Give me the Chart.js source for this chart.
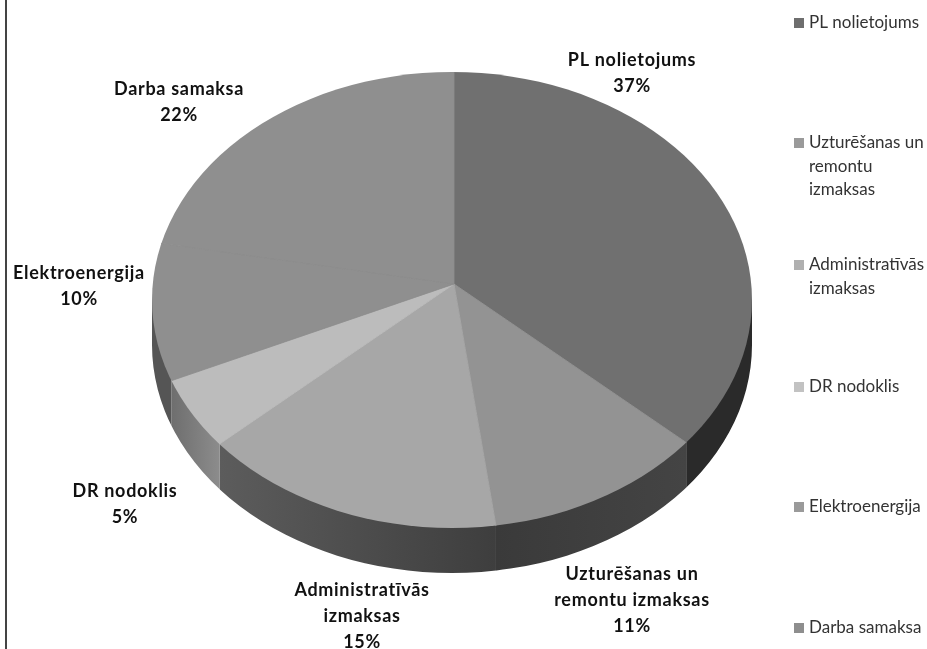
<!DOCTYPE html>
<html>
<head>
<meta charset="utf-8">
<title>Izmaksas</title>
<script src="https://cdn.jsdelivr.net/npm/chart.js@4/dist/chart.umd.min.js"></script>
<style>
  body { margin: 0; background: #fff; }
  canvas { display: block; }
</style>
</head>
<body>
<canvas id="pie" width="927" height="649"></canvas>
<script>
// DATA
const categories = ['PL nolietojums', 'Uzturēšanas un remontu izmaksas', 'Administratīvās izmaksas', 'DR nodoklis', 'Elektroenergija', 'Darba samaksa'];
const shares = [37, 11, 15, 5, 10, 22];

// colours, slice by slice
const topColors = ['#707070', '#939393', '#a7a7a7', '#bcbcbc', '#8f8f8f', '#8f8f8f'];
const legendColors = ['#6e6e6e', '#9a9a9a', '#b0b0b0', '#c2c2c2', '#9a9a9a', '#8e8e8e'];
const wallColors = [['#2a2a2a', '#2a2a2a'], ['#3a3a3a', '#444444'], ['#5c5c5c', '#3e3e3e'], ['#6e6e6e', '#8c8c8c'], ['#555555', '#555555'], ['#555555', '#555555']];

// pie geometry: apex is not the middle of the ellipse, it is a tilted 3d pie
const ell = { x: 452, y: 300, rx: 300, ry: 228, depth: 45 };
const tilt = 0.727;

// where the labels go (one per line of text)
const labelFont = 'bold 18px Lato';
const legendFont = '17px Lato';
const dataLabels = [
  { lines: ['PL nolietojums'], x: 632, y: 60 },
  { lines: ['Uzturēšanas un', 'remontu izmaksas'], x: 632, y: 574 },
  { lines: ['Administratīvās', 'izmaksas'], x: 362, y: 590 },
  { lines: ['DR nodoklis'], x: 125, y: 491 },
  { lines: ['Elektroenergija'], x: 79, y: 273 },
  { lines: ['Darba samaksa'], x: 179, y: 89 }
];
const legendRows = [
  { lines: ['PL nolietojums'], y: 23 },
  { lines: ['Uzturēšanas un', 'remontu', 'izmaksas'], y: 143 },
  { lines: ['Administratīvās', 'izmaksas'], y: 265 },
  { lines: ['DR nodoklis'], y: 387 },
  { lines: ['Elektroenergija'], y: 507 },
  { lines: ['Darba samaksa'], y: 628 }
];

// ray from the apex to the rim of the ellipse, for an arc angle
function rimPoint(cx, cy, angle) {
  const dx = Math.cos(angle), dy = Math.sin(angle) * tilt;
  const ox = (cx - ell.x) / ell.rx, oy = (cy - ell.y) / ell.ry;
  const ax = dx / ell.rx, ay = dy / ell.ry;
  const a = ax * ax + ay * ay, b = 2 * (ox * ax + oy * ay), c = ox * ox + oy * oy - 1;
  const t = (-b + Math.sqrt(b * b - 4 * a * c)) / (2 * a);
  return { x: cx + dx * t, y: cy + dy * t };
}

const pie3d = {
  id: 'pie3d',
  beforeDatasetsDraw(chart) {
    const ctx = chart.ctx;
    const arcs = chart.getDatasetMeta(0).data;
    // side walls
    arcs.forEach((arc, i) => {
      const p1 = rimPoint(arc.x, arc.y, arc.startAngle);
      const p2 = rimPoint(arc.x, arc.y, arc.endAngle);
      if (p1.y < ell.y && p2.y < ell.y) return; // back of the pie
      const side = Math.cos((arc.startAngle + arc.endAngle) / 2) > 0 ? ell.x + ell.rx : ell.x - ell.rx;
      const x1 = p1.y < ell.y ? side : p1.x;
      const x2 = p2.y < ell.y ? side : p2.x;
      const left = Math.min(x1, x2), right = Math.max(x1, x2);
      const grad = ctx.createLinearGradient(left, 0, right, 0);
      grad.addColorStop(0, wallColors[i][0]);
      grad.addColorStop(1, wallColors[i][1]);
      ctx.save();
      ctx.beginPath();
      ctx.rect(left, 0, right - left, chart.height);
      ctx.clip();
      ctx.fillStyle = grad;
      ctx.beginPath();
      ctx.ellipse(ell.x, ell.y + ell.depth, ell.rx, ell.ry, 0, 0, Math.PI * 2);
      ctx.rect(ell.x - ell.rx, ell.y, ell.rx * 2, ell.depth);
      ctx.fill('nonzero');
      ctx.restore();
    });
    // top face: slices are cut by the ellipse
    const apex = arcs[0];
    ctx.save();
    ctx.beginPath();
    ctx.ellipse(ell.x, ell.y, ell.rx, ell.ry, 0, 0, Math.PI * 2);
    ctx.clip();
    ctx.translate(apex.x, apex.y);
    ctx.scale(1, tilt);
    ctx.translate(-apex.x, -apex.y);
  },
  afterDatasetsDraw(chart) {
    const ctx = chart.ctx;
    ctx.restore();

    // data labels
    ctx.fillStyle = '#111';
    ctx.textAlign = 'center';
    ctx.textBaseline = 'middle';
    ctx.font = labelFont;
    ctx.letterSpacing = '0.7px';
    dataLabels.forEach((lab, i) => {
      lab.lines.forEach((line, n) => ctx.fillText(line, lab.x, lab.y + n * 26));
      ctx.fillText(shares[i] + '%', lab.x, lab.y + lab.lines.length * 26);
    });

    // legend on the right
    ctx.textAlign = 'left';
    ctx.font = legendFont;
    ctx.letterSpacing = '0px';
    legendRows.forEach((row, i) => {
      ctx.fillStyle = legendColors[i];
      ctx.fillRect(794, row.y - 5, 10, 10);
      ctx.fillStyle = '#333';
      row.lines.forEach((line, n) => ctx.fillText(line, 809, row.y + n * 23.5));
    });

    // picture frame, left edge only
    ctx.strokeStyle = '#444';
    ctx.lineWidth = 2;
    ctx.beginPath();
    ctx.moveTo(6, 0);
    ctx.lineTo(6, 649);
    ctx.stroke();
  }
};

new Chart(document.getElementById('pie'), {
  type: 'pie',
  data: {
    labels: categories,
    datasets: [{
      data: shares,
      backgroundColor: topColors,
      borderColor: topColors,
      borderWidth: 1,
      clip: false
    }]
  },
  options: {
    responsive: false,
    animation: false,
    radius: 520,
    layout: { padding: { left: 0, top: 0, right: 19, bottom: 81 } },
    plugins: { legend: { display: false }, tooltip: { enabled: false } }
  },
  plugins: [pie3d]
});
</script>
</body>
</html>
